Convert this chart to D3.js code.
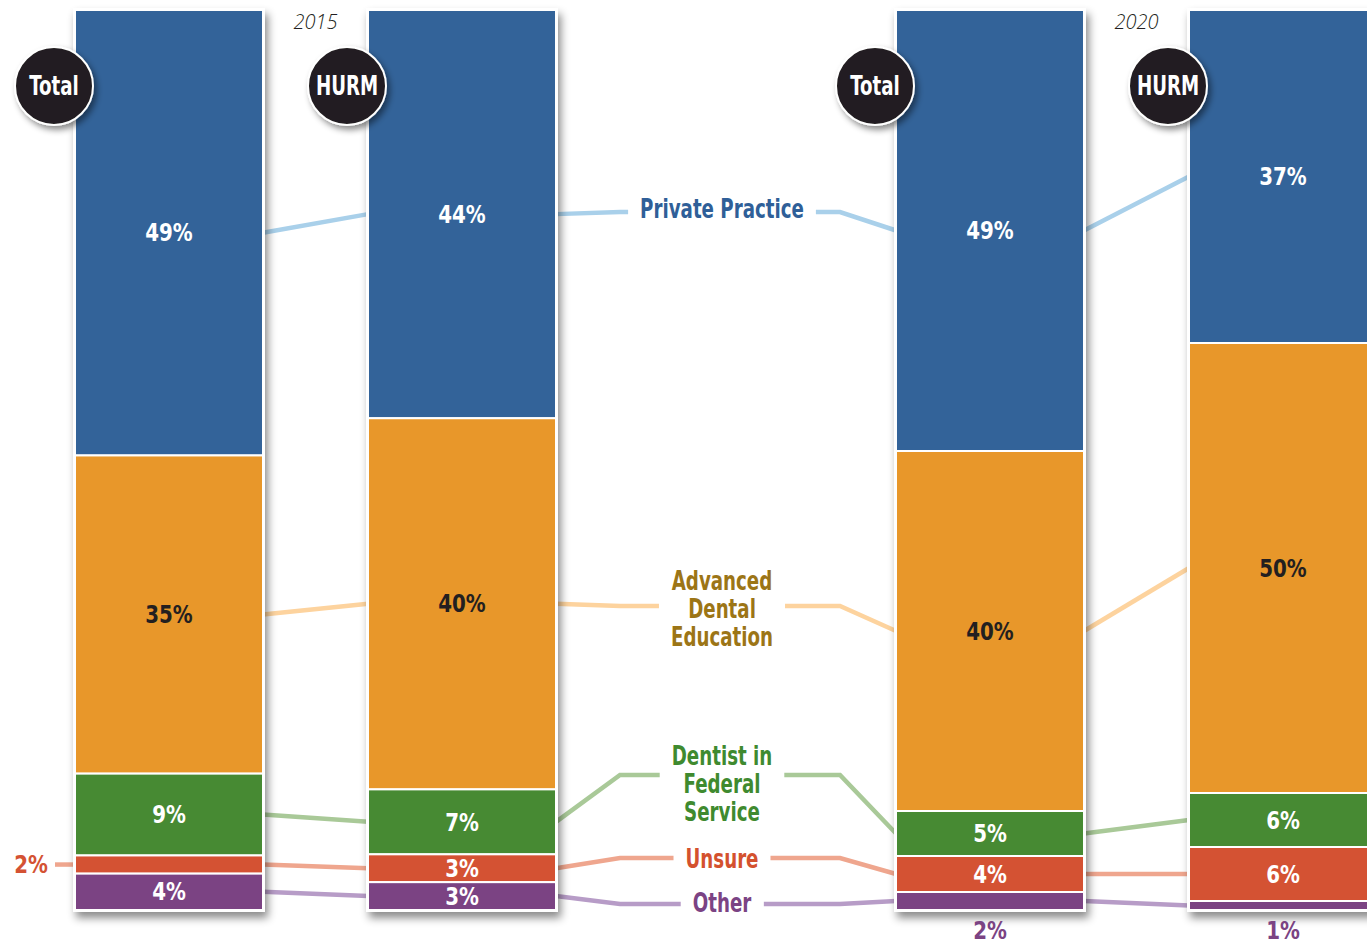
<!DOCTYPE html>
<html>
<head>
<meta charset="utf-8">
<script src="https://cdn.jsdelivr.net/npm/d3@7"></script>
<style>
  body { margin: 0; background: #fff; }
  svg { display: block; }
  .val, .cat, .badge { font-family: "DejaVu Sans Condensed", "DejaVu Sans", sans-serif; font-weight: bold; font-stretch: condensed; }
  .year { font-family: "Open Sans", "Liberation Sans", sans-serif; font-style: italic; font-weight: 300; }
</style>
</head>
<body>
<svg id="chart" width="1367" height="942"></svg>
<script>
// ---- data ----
const years = ["2015", "2020"];
const groups = ["Total", "HURM"];
const categories = ["Private Practice", "Advanced Dental Education", "Dentist in Federal Service", "Unsure", "Other"];
const categoryLines = [["Private Practice"], ["Advanced", "Dental", "Education"], ["Dentist in", "Federal", "Service"], ["Unsure"], ["Other"]];

// one entry per bar: 2015 Total, 2015 HURM, 2020 Total, 2020 HURM
const barYears  = ["2015", "2015", "2020", "2020"];
const barGroups = ["Total", "HURM", "Total", "HURM"];
const privatePractice   = [49, 44, 49, 37];
const advancedEducation = [35, 40, 40, 50];
const federalService    = [9, 7, 5, 6];
const unsure            = [2, 3, 4, 6];
const other             = [4, 3, 2, 1];

// ---- styling ----
const fillColors  = ["#336399", "#e8972a", "#478a33", "#d45233", "#7b4383"];
const lineColors  = ["#a9d0ea", "#fdd39e", "#a9c998", "#efa68e", "#b79cc7"];
const labelColors = ["#2f5f98", "#9c7516", "#3f8a2f", "#d4512e", "#7b4384"];
const valueTextColors = ["#fff", "#231f20", "#fff", "#fff", "#fff"];
const condense = 0.78;   // horizontal squeeze for the heavy condensed headings

// y positions of the horizontal leader lines and label blocks in the centre column
const leaderY = [212, 606, 775, 858, 904];
const labelCenterY = [209, 609, 784, 859, 903];

const rows = barYears.map((yr, i) => ({
  year: yr,
  group: barGroups[i],
  "Private Practice": privatePractice[i],
  "Advanced Dental Education": advancedEducation[i],
  "Dentist in Federal Service": federalService[i],
  "Unsure": unsure[i],
  "Other": other[i]
}));

const series = d3.stack()
  .keys(categories)
  .order(d3.stackOrderNone)
  .offset(d3.stackOffsetExpand)(rows);

const svg = d3.select("#chart");

// ---- scales ----
const xYear = d3.scaleBand().domain(years).range([75, 1377]).paddingInner(340 / 821).paddingOuter(0);
const xGroup = d3.scaleBand().domain(groups).range([0, xYear.bandwidth()]).paddingInner(105 / 293).paddingOuter(0);
const y = d3.scaleLinear().domain([0, 1]).range([10, 910]);
const bw = xGroup.bandwidth();
const barX = i => xYear(barYears[i]) + xGroup(barGroups[i]);
const mid = (j, i) => y((series[j][i][0] + series[j][i][1]) / 2);

// ---- filters ----
const defs = svg.append("defs");
const f = defs.append("filter").attr("id", "shadow").attr("x", "-20%").attr("y", "-20%").attr("width", "150%").attr("height", "150%");
f.append("feDropShadow").attr("dx", 3).attr("dy", 6).attr("stdDeviation", 4.5).attr("flood-color", "#000").attr("flood-opacity", 0.45);
const fc = defs.append("filter").attr("id", "cshadow").attr("x", "-40%").attr("y", "-40%").attr("width", "190%").attr("height", "190%");
fc.append("feDropShadow").attr("dx", 3).attr("dy", 4).attr("stdDeviation", 3).attr("flood-color", "#000").attr("flood-opacity", 0.45);

const linesG = svg.append("g").attr("fill", "none").attr("stroke-width", 4.5);
const barsG = svg.append("g");
const labelsG = svg.append("g");

// ---- centre category labels ----
const centreX = (barX(1) + bw + barX(2)) / 2 - 4;
const lineH = 28;
const catBoxes = categories.map((c, j) => {
  const lines = categoryLines[j];
  const t = labelsG.append("text")
    .attr("class", "cat")
    .attr("text-anchor", "middle")
    .attr("font-size", 26)
    .attr("transform", `translate(${centreX},0) scale(${condense},1)`)
    .attr("fill", labelColors[j]);
  const top = labelCenterY[j] - (lines.length - 1) * lineH / 2;
  lines.forEach((ln, k) => {
    t.append("tspan").attr("x", 0).attr("y", top + k * lineH).attr("dy", "0.35em").text(ln);
  });
  const b = t.node().getBBox();
  return { x: centreX + b.x * condense, width: b.width * condense };
});

// ---- connector lines ----
const line = d3.line();
categories.forEach((c, j) => {
  // Total -> HURM within each year
  [[0, 1], [2, 3]].forEach(([a, b]) => {
    linesG.append("path")
      .attr("stroke", lineColors[j])
      .attr("d", line([[barX(a) + bw, mid(j, a)], [barX(b), mid(j, b)]]));
  });
  // 2015 HURM -> label -> 2020 Total
  const box = catBoxes[j];
  const x1 = barX(1) + bw, x2 = barX(2);
  linesG.append("path")
    .attr("stroke", lineColors[j])
    .attr("d", line([[x1, mid(j, 1)], [x1 + 64, leaderY[j]], [box.x - 12, leaderY[j]]]));
  linesG.append("path")
    .attr("stroke", lineColors[j])
    .attr("d", line([[box.x + box.width + 12, leaderY[j]], [x2 - 56, leaderY[j]], [x2, mid(j, 2)]]));
});

// ---- bars ----
rows.forEach((r, i) => {
  const g = barsG.append("g");
  g.append("rect")
    .attr("x", barX(i) - 2).attr("y", y(0) - 2)
    .attr("width", bw + 4).attr("height", y(1) - y(0) + 4)
    .attr("fill", "#fff")
    .attr("filter", "url(#shadow)");
  series.forEach((s, j) => {
    g.append("rect")
      .attr("x", barX(i)).attr("y", y(s[i][0]))
      .attr("width", bw).attr("height", y(s[i][1]) - y(s[i][0]))
      .attr("fill", fillColors[j])
      .attr("stroke", "#fff").attr("stroke-width", 2);
  });
});

// ---- value labels ----
const valueText = (x, yy, anchor, color, txt) =>
  labelsG.append("text").attr("class", "val")
    .attr("transform", `translate(${x},${yy}) scale(0.92,1)`)
    .attr("dy", "0.36em")
    .attr("text-anchor", anchor).attr("font-size", 24)
    .attr("fill", color).text(txt);

rows.forEach((r, i) => {
  series.forEach((s, j) => {
    const v = r[categories[j]];
    const h = y(s[i][1]) - y(s[i][0]);
    const cx = barX(i) + bw / 2;
    if (h >= 22) {
      valueText(cx, mid(j, i), "middle", valueTextColors[j], v + "%");
    } else if (j === categories.length - 1) {
      // bottom segment too thin: value below the bar
      valueText(cx, y(1) + 20, "middle", fillColors[j], v + "%");
    } else {
      // thin inner segment: value to the left with a short leader
      linesG.append("path").attr("stroke", lineColors[j])
        .attr("d", line([[barX(i) - 20, mid(j, i)], [barX(i), mid(j, i)]]));
      valueText(barX(i) - 27, mid(j, i), "end", fillColors[j], v + "%");
    }
  });
});

// ---- group badges ----
rows.forEach((r, i) => {
  const cx = barX(i) - 21, cy = 86;
  labelsG.append("circle").attr("cx", cx).attr("cy", cy).attr("r", 39)
    .attr("fill", "#231f20").attr("stroke", "#fff").attr("stroke-width", 2)
    .attr("filter", "url(#cshadow)");
  labelsG.append("text").attr("class", "badge")
    .attr("transform", `translate(${cx},${cy}) scale(${condense},1)`)
    .attr("dy", "0.36em")
    .attr("text-anchor", "middle").attr("font-size", 26)
    .attr("fill", "#fff").text(r.group);
});

// ---- year captions ----
years.forEach(yr => {
  const gapCx = xYear(yr) + xGroup("Total") + bw + (xGroup("HURM") - xGroup("Total") - bw) / 2;
  labelsG.append("text").attr("class", "year")
    .attr("x", gapCx).attr("y", 29)
    .attr("text-anchor", "middle").attr("font-size", 20)
    .attr("fill", "#231f20").text(yr);
});
</script>
</body>
</html>
